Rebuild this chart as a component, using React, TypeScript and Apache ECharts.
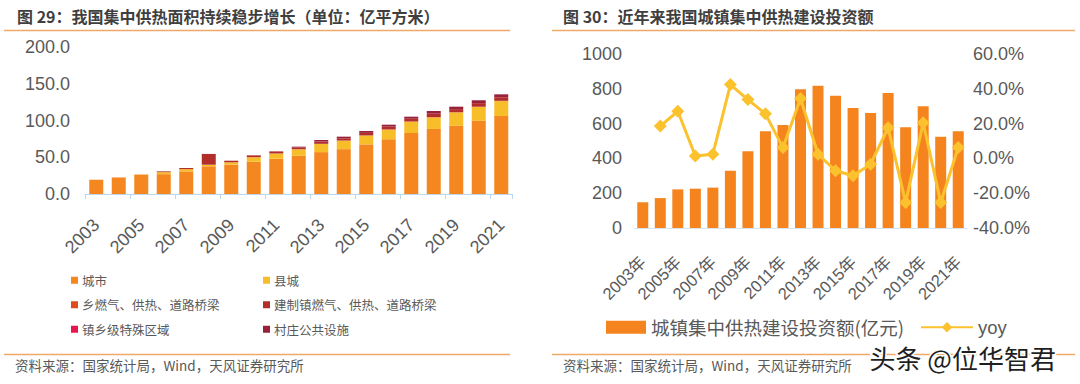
import React, { useEffect, useRef } from "react";
import * as echarts from "echarts";

const years = ["2003","2004","2005","2006","2007","2008","2009","2010","2011","2012","2013","2014","2015","2016","2017","2018","2019","2020","2021"];
const yearLabels = years.map((y) => y + "年");

// Figure 29 (亿平方米)
const cityArea = [19.4, 22.5, 26.5, 27.0, 30.8, 37.7, 40.0, 44.0, 48.0, 52.0, 57.0, 61.0, 67.5, 74.5, 83.0, 88.5, 92.8, 99.5, 106.0];
const countyArea = [0, 0, 0, 2.6, 3.0, 1.8, 3.0, 6.0, 7.0, 8.8, 11.0, 11.5, 12.0, 13.0, 15.4, 15.8, 18.2, 18.9, 20.4];
const townshipArea = [0, 0, 0, 0.1, 0.1, 0.5, 0.2, 0.2, 0.2, 0.3, 0.3, 0.3, 0.3, 0.4, 0.3, 0.4, 0.4, 0.4, 0.4];
const townArea = [0, 0, 0, 1.1, 1.5, 14.5, 2.1, 2.4, 2.8, 2.1, 3.0, 3.0, 3.3, 3.6, 3.6, 4.5, 4.1, 4.8, 4.8];
const specialArea = [0, 0, 0, 0, 0, 0, 0, 0, 0, 0, 0.1, 0.1, 0.1, 0.1, 0.1, 0.1, 0.1, 0.1, 0.1];
const villageArea = [0, 0, 0, 0, 0, 0, 0, 0, 0, 1.2, 2.1, 2.1, 2.5, 2.7, 2.8, 3.6, 3.2, 3.8, 3.9];

const areaNames = ["城市", "县城", "乡燃气、供热、道路桥梁", "建制镇燃气、供热、道路桥梁", "镇乡级特殊区域", "村庄公共设施"];
const areaColors = ["#F4871F", "#F8BE2A", "#DD4B1E", "#B22E2A", "#E8164E", "#98203A"];

// Figure 30
const investment = [148, 172, 222, 226, 232, 329, 441, 556, 592, 797, 818, 760, 690, 661, 776, 579, 699, 525, 556];
const yoy = [null, 18.6, 27.1, 1.4, 2.4, 42.4, 33.8, 25.6, 6.2, 34.4, 2.4, -7.1, -10.0, -3.3, 17.6, -25.3, 20.5, -25.3, 6.2];

const leftYTicks = { min: 0, max: 200, interval: 50 };
const rightYTicks = { min: 0, max: 1000, interval: 200 };
const yoyTicks = { min: -40, max: 60, interval: 20 };

const FONT = "'Liberation Sans', 'Noto Sans CJK SC', sans-serif";
const CJK = "'Noto Sans CJK SC', sans-serif";
const GRAY = "#595959";
const RULE = "#F0A868";

export default function App() {
  const ref = useRef<HTMLDivElement>(null);
  useEffect(() => {
    if (!ref.current) return;
    const chart = echarts.init(ref.current, undefined, { renderer: "svg" });
    const areaData = [cityArea, countyArea, townshipArea, townArea, specialArea, villageArea];
    const option: any = {
      animation: false,
      backgroundColor: "#ffffff",
      textStyle: { fontFamily: FONT },
      grid: [
        { left: 85, width: 427.5, top: 47, height: 147 },
        { left: 634, width: 333, top: 54, height: 174 },
      ],
      xAxis: [
        {
          type: "category", gridIndex: 0, data: years,
          axisLine: { lineStyle: { color: "#BDD7EE", width: 1 } },
          axisTick: { show: true, interval: 1, length: 5, lineStyle: { color: "#BDD7EE" } },
          axisLabel: { interval: 1, rotate: 45, fontSize: 18, color: GRAY, margin: 28, fontFamily: FONT },
        },
        {
          type: "category", gridIndex: 1, data: yearLabels,
          axisLine: { lineStyle: { color: "#DAE3F3", width: 1 } },
          axisTick: { show: false },
          axisLabel: { interval: 1, rotate: 45, fontSize: 16.5, color: GRAY, margin: 31, fontFamily: FONT },
        },
      ],
      yAxis: [
        {
          type: "value", gridIndex: 0, ...leftYTicks,
          splitLine: { show: false }, axisLine: { show: false }, axisTick: { show: false },
          axisLabel: { fontSize: 18, color: GRAY, margin: 15, formatter: (v: number) => v.toFixed(1) },
        },
        {
          type: "value", gridIndex: 1, ...rightYTicks,
          splitLine: { show: false }, axisLine: { show: false }, axisTick: { show: false },
          axisLabel: { fontSize: 18, color: GRAY, margin: 12, formatter: (v: number) => String(v) },
        },
        {
          type: "value", gridIndex: 1, position: "right", ...yoyTicks,
          splitLine: { show: false }, axisLine: { show: false }, axisTick: { show: false },
          axisLabel: { fontSize: 18, color: GRAY, margin: 6, formatter: (v: number) => v.toFixed(1) + "%" },
        },
      ],
      legend: [
        {
          data: [areaNames[0], areaNames[2], areaNames[4]], orient: "vertical", left: 66, top: 269,
          icon: "rect", itemWidth: 7, itemHeight: 7, itemGap: 12, selectedMode: false,
          textStyle: { fontSize: 12.5, color: GRAY, fontFamily: CJK, padding: [0, 0, 0, -1] },
        },
        {
          data: [areaNames[1], areaNames[3], areaNames[5]], orient: "vertical", left: 258, top: 269,
          icon: "rect", itemWidth: 7, itemHeight: 7, itemGap: 12, selectedMode: false,
          textStyle: { fontSize: 12.5, color: GRAY, fontFamily: CJK, padding: [0, 0, 0, -1] },
        },
        {
          data: ["城镇集中供热建设投资额(亿元)"], left: 601, top: 313,
          icon: "rect", itemWidth: 40, itemHeight: 13, selectedMode: false,
          textStyle: { fontSize: 18.5, color: GRAY, fontFamily: CJK },
        },
        {
          data: ["yoy"], left: 915, top: 313, itemWidth: 52, itemHeight: 13, selectedMode: false,
          textStyle: { fontSize: 18.5, color: GRAY, fontFamily: FONT },
        },
      ],
      series: [
        ...areaNames.map((name, i) => ({
          name, type: "bar", stack: "area", xAxisIndex: 0, yAxisIndex: 0,
          barWidth: 14, data: areaData[i], itemStyle: { color: areaColors[i] },
        })),
        {
          name: "城镇集中供热建设投资额(亿元)", type: "bar", xAxisIndex: 1, yAxisIndex: 1,
          barWidth: 11, data: investment, itemStyle: { color: "#F5841F" },
        },
        {
          name: "yoy", type: "line", xAxisIndex: 1, yAxisIndex: 2, data: yoy,
          symbol: "diamond", symbolSize: 13, showAllSymbol: true, connectNulls: false,
          lineStyle: { color: "#FBC22E", width: 3 }, itemStyle: { color: "#FBC22E" },
        },
      ],
      graphic: [
        { type: "text", left: 17, top: 8, style: { text: "图 29：我国集中供热面积持续稳步增长（单位：亿平方米）", font: "bold 16px 'Noto Sans CJK SC'", fill: "#3F3F3F" } },
        { type: "text", left: 563, top: 8, style: { text: "图 30：近年来我国城镇集中供热建设投资额", font: "bold 16px 'Noto Sans CJK SC'", fill: "#3F3F3F" } },
        { type: "line", shape: { x1: 4, y1: 30.5, x2: 510, y2: 30.5 }, style: { stroke: RULE, lineWidth: 1.5 } },
        { type: "line", shape: { x1: 552, y1: 30.5, x2: 1075, y2: 30.5 }, style: { stroke: RULE, lineWidth: 1.5 } },
        { type: "line", shape: { x1: 4, y1: 354.5, x2: 510, y2: 354.5 }, style: { stroke: RULE, lineWidth: 1.5 } },
        { type: "line", shape: { x1: 552, y1: 354.5, x2: 1075, y2: 354.5 }, style: { stroke: RULE, lineWidth: 1.5 } },
        { type: "text", left: 15, top: 358, style: { text: "资料来源：国家统计局，Wind，天风证券研究所", font: "13.5px 'Noto Sans CJK SC'", fill: GRAY } },
        { type: "text", left: 563, top: 358, style: { text: "资料来源：国家统计局，Wind，天风证券研究所", font: "13.5px 'Noto Sans CJK SC'", fill: GRAY } },
        { type: "text", left: 868, top: 343, z: 100, style: { text: "头条 @位华智君", font: "26px 'Noto Sans CJK SC'", fill: "#1f1f1f", stroke: "#ffffff", lineWidth: 3 } },
      ],
    };
    chart.setOption(option);
    return () => chart.dispose();
  }, []);
  return <div ref={ref} style={{ position: "fixed", left: 0, top: 0, width: 1080, height: 384, background: "#fff" }} />;
}
